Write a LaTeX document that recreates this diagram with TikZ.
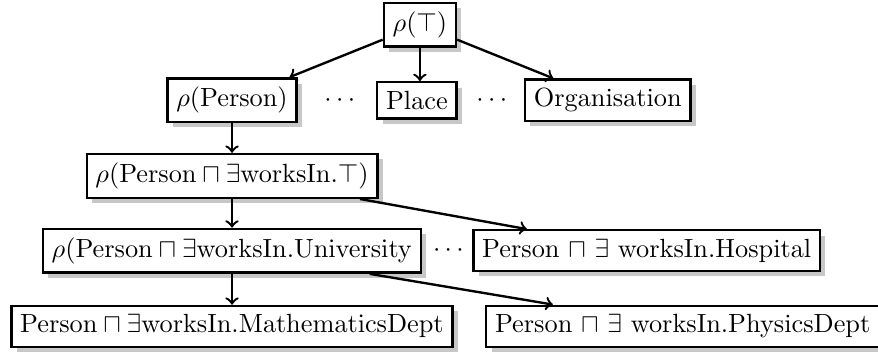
\documentclass[tikz,border=0pt]{standalone}
\usetikzlibrary{shadows}
\tikzset{
  box/.style={draw, line width=0.9pt, fill=white,
    drop shadow={shadow xshift=2pt, shadow yshift=-2pt, fill=black!22, opacity=1}},
  edge/.style={->, line width=0.9pt}
}
\begin{document}
\begin{tikzpicture}
\useasboundingbox (0.,0.) rectangle (11.73,4.73);
\node[box] (top) at (5.61,4.40) {$\rho(\top)$};
\node[box] (person) at (3.10,3.39) {$\rho(\mathrm{Person})$};
\node[box] (place) at (5.57,3.39) {Place};
\node[box] (org) at (8.12,3.39) {Organisation};
\node (dotsa) at (4.54,3.39) {$\cdots$};
\node (dotsb) at (6.57,3.39) {$\cdots$};
\node[box] (works) at (3.10,2.38) {$\rho(\mathrm{Person} \sqcap \exists \mathrm{worksIn}.\top)$};
\node[box] (univ) at (3.10,1.38) {$\rho(\mathrm{Person} \sqcap \exists \mathrm{worksIn.University}$};
\node (dotsc) at (5.99,1.38) {$\cdots$};
\node[box] (hosp) at (8.64,1.38) {Person $\sqcap$ $\exists$ worksIn.Hospital};
\node[box] (math) at (3.10,0.37) {$\mathrm{Person} \sqcap \exists \mathrm{worksIn.MathematicsDept}$};
\node[box] (phys) at (9.12,0.37) {Person $\sqcap$ $\exists$ worksIn.PhysicsDept};
\draw [edge] (top) -- (person);
\draw [edge] (top) -- (top |- place.north);
\draw [edge] (top) -- (org);
\draw [edge] (person) -- (works);
\draw [edge] (works) -- (univ);
\draw [edge] (works) -- (hosp);
\draw [edge] (univ) -- (math);
\draw [edge] (univ) -- (phys);
\end{tikzpicture}
\end{document}
